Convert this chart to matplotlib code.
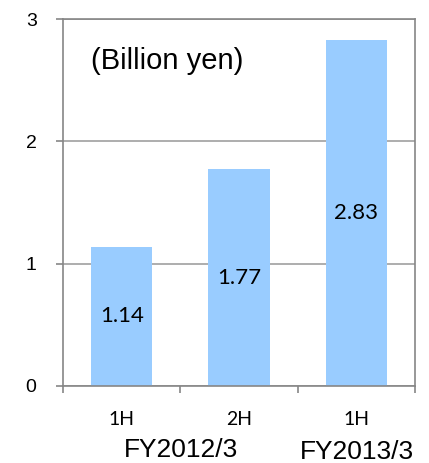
import matplotlib
matplotlib.use('agg')
import matplotlib.pyplot as plt

# data
periods = ['1H', '2H', '1H']
years = ['FY2012/3', 'FY2013/3']
values = [1.14, 1.77, 2.83]
value_labels = ['1.14', '1.77', '2.83']

fig = plt.figure(figsize=(4.29, 4.63), dpi=100)
ax = fig.add_axes([63/429, 77/463, 352/429, 367/463])

xs = range(len(values))
bars = ax.bar(xs, values, width=0.52, color='#99CCFF', zorder=2)
ax.bar_label(bars, labels=value_labels, label_type='center',
             fontsize=16, family='Lato', color='black')

ax.set_xlim(-0.5, 2.5)
ax.set_ylim(0, 3)
ax.set_yticks([0, 1, 2, 3])
ax.set_yticklabels(['0', '1', '2', '3'], family='Liberation Sans', fontsize=14)
ax.tick_params(axis='y', length=5, width=1.2, color='#868686', pad=14)

ax.set_xticks(list(xs))
ax.set_xticklabels(periods, family='Lato', fontsize=14)
ax.tick_params(axis='x', which='major', length=0, pad=18)
ax.set_xticks([-0.5, 0.5, 1.5, 2.5], minor=True)
ax.tick_params(axis='x', which='minor', length=5, width=1.2, color='#868686')

ax.grid(axis='y', color='#A0A0A0', linewidth=1.2, zorder=1)
for s in ax.spines.values():
    s.set_color('#868686')
    s.set_linewidth(1.2)

ax.text(0.08, 0.885, '(Billion yen)', transform=ax.transAxes,
        family='Liberation Sans', fontsize=21, va='center', ha='left')

# fiscal year group labels
fig.text(181/429, 1 - 450/463, years[0], family='Liberation Sans',
         fontsize=19, ha='center', va='center')
fig.text(357/429, 1 - 452/463, years[1], family='Liberation Sans',
         fontsize=19, ha='center', va='center')

fig.savefig('out.png', dpi=100)
